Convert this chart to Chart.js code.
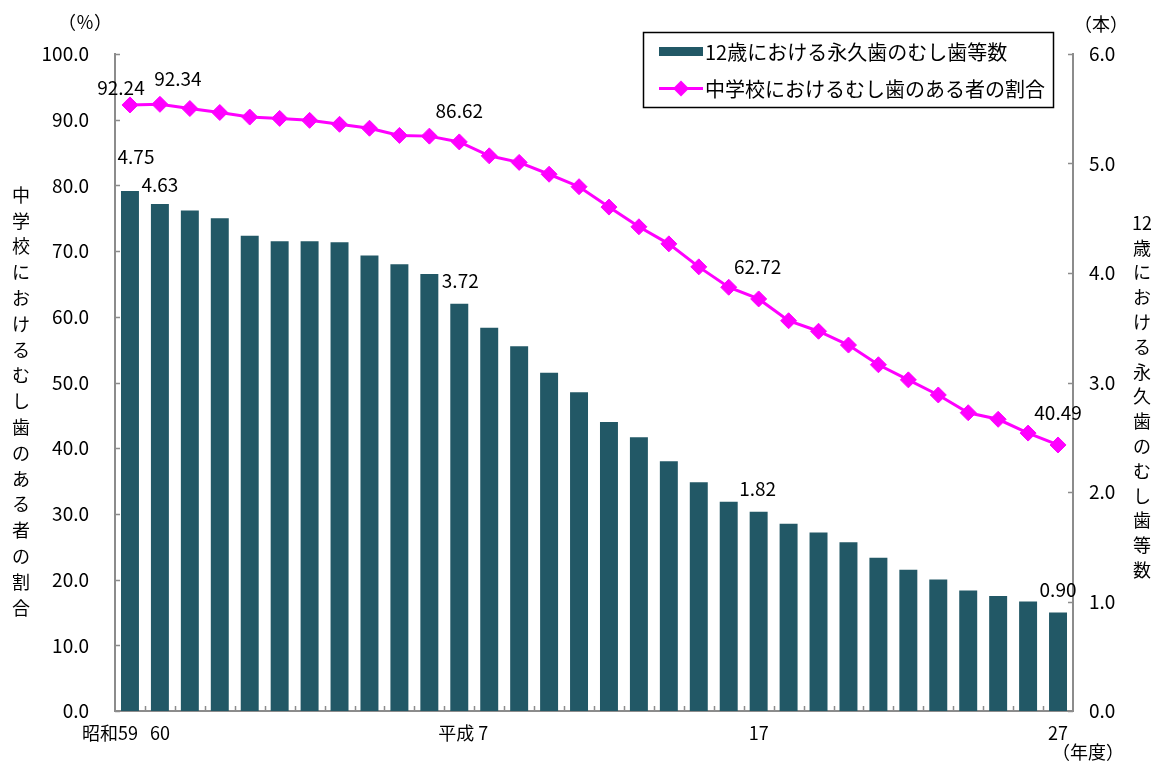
<!DOCTYPE html>
<html lang="ja">
<head>
<meta charset="utf-8">
<title>むし歯の推移</title>
<script src="https://cdn.jsdelivr.net/npm/chart.js@4.4.1/dist/chart.umd.min.js"></script>
<style>
    html, body { margin: 0; padding: 0; background: #fff; }
    #wrap { width: 1151px; height: 764px; }
</style>
</head>
<body>
<div id="wrap"><canvas id="myChart"></canvas></div>
<script>
// 年度（昭和59〜平成27）
const categories = ['昭和59', '60', '61', '62', '63', '平成元', '2', '3', '4', '5', '6', '平成 7', '8', '9', '10',
    '11', '12', '13', '14', '15', '16', '17', '18', '19', '20', '21', '22', '23', '24', '25', '26', '27'];
const shownCategories = [0, 1, 11, 21, 31];

// 12歳における永久歯のむし歯等数（本）
const decayedTeeth = [4.75, 4.63, 4.57, 4.50, 4.34, 4.29, 4.29, 4.28, 4.16, 4.08, 3.99, 3.72, 3.50, 3.33, 3.09, 2.91,
    2.64, 2.50, 2.28, 2.09, 1.91, 1.82, 1.71, 1.63, 1.54, 1.40, 1.29, 1.20, 1.10, 1.05, 1.00, 0.90];

// 中学校におけるむし歯のある者の割合（%）
const cariesRate = [92.24, 92.34, 91.7, 91.1, 90.4, 90.2, 89.9, 89.3, 88.7, 87.6, 87.5, 86.62, 84.5, 83.5, 81.7, 79.8,
    76.7, 73.7, 71.1, 67.6, 64.5, 62.72, 59.4, 57.8, 55.7, 52.7, 50.4, 48.1, 45.4, 44.4, 42.3, 40.49];

const labeledPoints = [0, 1, 11, 21, 31];

const barLabel = '12歳における永久歯のむし歯等数';
const lineLabel = '中学校におけるむし歯のある者の割合';

const FONT = '"Noto Sans CJK JP", "Noto Sans", sans-serif';
const BAR_COLOR = '#225866';
const LINE_COLOR = '#ff00ff';
const AXIS_COLOR = '#8c8c8c';

// 値ラベルの位置ずれ（要素からのオフセット）
const lineLabelOffsets = { 0: [-9, -17], 1: [18, -26], 11: [0, -31], 21: [-1, -32], 31: [0, -32] };
const barLabelOffsets = { 0: [6, -34], 1: [0, -19], 11: [1, -23], 21: [-1, -23], 31: [0, -23] };

function drawVertical(ctx, parts, x, y0, step) {
    ctx.textAlign = 'center';
    ctx.textBaseline = 'middle';
    parts.forEach(function (p, i) {
        ctx.fillText(p, x, y0 + i * step);
    });
}

function drawDiamond(ctx, x, y, r) {
    ctx.beginPath();
    ctx.moveTo(x, y - r);
    ctx.lineTo(x + r, y);
    ctx.lineTo(x, y + r);
    ctx.lineTo(x - r, y);
    ctx.closePath();
    ctx.fill();
}

const decorPlugin = {
    id: 'decor',
    afterDraw(chart) {
        const ctx = chart.ctx;
        const area = chart.chartArea;
        const xs = chart.scales.x;
        const yl = chart.scales.y;
        const yr = chart.scales.y1;
        ctx.save();

        // 目盛り（内向き）
        ctx.strokeStyle = AXIS_COLOR;
        ctx.lineWidth = 1.5;
        ctx.beginPath();
        yl.ticks.forEach(function (t) {
            const py = Math.round(yl.getPixelForValue(t.value)) + 0.5;
            ctx.moveTo(area.left, py);
            ctx.lineTo(area.left + 5, py);
        });
        yr.ticks.forEach(function (t) {
            const py = Math.round(yr.getPixelForValue(t.value)) + 0.5;
            ctx.moveTo(area.right - 5, py);
            ctx.lineTo(area.right, py);
        });
        for (let i = 1; i < categories.length; i++) {
            const px = Math.round((xs.getPixelForValue(i - 1) + xs.getPixelForValue(i)) / 2) + 0.5;
            ctx.moveTo(px, area.bottom);
            ctx.lineTo(px, area.bottom - 5);
        }
        ctx.stroke();

        // 横軸ラベル
        ctx.fillStyle = '#000';
        ctx.font = '18px ' + FONT;
        ctx.textBaseline = 'middle';
        shownCategories.forEach(function (i) {
            const px = xs.getPixelForValue(i);
            if (i === 0) {
                ctx.textAlign = 'right';
                ctx.fillText(categories[i], px + 8, area.bottom + 22);
            } else {
                ctx.textAlign = 'center';
                ctx.fillText(categories[i], px + (i === 11 ? 4 : 0), area.bottom + 22);
            }
        });
        ctx.textAlign = 'left';
        ctx.fillText('（年度）', 1052, 752);

        // 単位
        ctx.textAlign = 'left';
        ctx.fillText('（％）', 58, 22);
        ctx.fillText('（本）', 1074, 24);

        // 軸タイトル（縦書き）
        drawVertical(ctx, lineLabel.split(''), 21, 195, 25.8);
        drawVertical(ctx, ['12'].concat(barLabel.slice(2).split('')), 1142, 223, 24.8);

        // 値ラベル
        const lineMeta = chart.getDatasetMeta(1);
        const barMeta = chart.getDatasetMeta(0);
        ctx.font = '19px ' + FONT;
        ctx.textAlign = 'center';
        labeledPoints.forEach(function (i) {
            const pt = lineMeta.data[i];
            const lo = lineLabelOffsets[i];
            ctx.fillText(cariesRate[i].toFixed(2), pt.x + lo[0], pt.y + lo[1]);
            const bar = barMeta.data[i];
            const bo = barLabelOffsets[i];
            ctx.fillText(decayedTeeth[i].toFixed(2), bar.x + bo[0], bar.y + bo[1]);
        });

        // 凡例
        ctx.fillStyle = '#fff';
        ctx.fillRect(643, 32, 410, 75);
        ctx.strokeStyle = '#000';
        ctx.lineWidth = 1.5;
        ctx.strokeRect(643.5, 32.5, 410, 75);
        ctx.fillStyle = BAR_COLOR;
        ctx.fillRect(659, 47, 44, 9);
        ctx.strokeStyle = LINE_COLOR;
        ctx.lineWidth = 3;
        ctx.beginPath();
        ctx.moveTo(659, 88.5);
        ctx.lineTo(703, 88.5);
        ctx.stroke();
        ctx.fillStyle = LINE_COLOR;
        drawDiamond(ctx, 681, 88.5, 8);
        ctx.fillStyle = '#000';
        ctx.font = '20px ' + FONT;
        ctx.textAlign = 'left';
        ctx.fillText(barLabel, 705, 52);
        ctx.fillText(lineLabel, 705, 89);

        ctx.restore();
    }
};

document.addEventListener('DOMContentLoaded', function () {
    const ctx = document.getElementById('myChart');

    new Chart(ctx, {
        type: 'bar',
        data: {
            labels: categories,
            datasets: [{
                type: 'bar',
                label: barLabel,
                data: decayedTeeth,
                yAxisID: 'y1',
                backgroundColor: BAR_COLOR,
                borderWidth: 0,
                barPercentage: 0.6,
                categoryPercentage: 1,
                order: 2
            }, {
                type: 'line',
                label: lineLabel,
                data: cariesRate,
                yAxisID: 'y',
                borderColor: LINE_COLOR,
                borderWidth: 3,
                backgroundColor: LINE_COLOR,
                pointStyle: 'rectRot',
                pointRadius: 8,
                pointBorderWidth: 1,
                pointBackgroundColor: LINE_COLOR,
                pointBorderColor: LINE_COLOR,
                tension: 0,
                order: 1
            }]
        },
        options: {
            responsive: true,
            maintainAspectRatio: false,
            animation: false,
            layout: { padding: { top: 54, left: 0, right: 0, bottom: 0 } },
            plugins: {
                legend: { display: false },
                tooltip: { enabled: false }
            },
            scales: {
                x: {
                    offset: true,
                    grid: { display: false, drawTicks: false },
                    border: { display: true, color: AXIS_COLOR, width: 2 },
                    ticks: { display: false },
                    afterFit: function (scale) { scale.height = 53; }
                },
                y: {
                    position: 'left',
                    min: 0,
                    max: 100,
                    grid: { display: false, drawTicks: false },
                    border: { display: true, color: AXIS_COLOR, width: 2 },
                    ticks: {
                        stepSize: 10,
                        padding: 26,
                        color: '#000',
                        font: { family: FONT, size: 19 },
                        callback: function (v) { return v.toFixed(1); }
                    },
                    afterFit: function (scale) { scale.width = 115; }
                },
                y1: {
                    position: 'right',
                    min: 0,
                    max: 6,
                    grid: { display: false, drawTicks: false },
                    border: { display: true, color: AXIS_COLOR, width: 2 },
                    ticks: {
                        stepSize: 1,
                        padding: 16,
                        color: '#000',
                        font: { family: FONT, size: 19 },
                        callback: function (v) { return v.toFixed(1); }
                    },
                    afterFit: function (scale) { scale.width = 78; }
                }
            }
        },
        plugins: [decorPlugin]
    });
});
</script>
</body>
</html>
